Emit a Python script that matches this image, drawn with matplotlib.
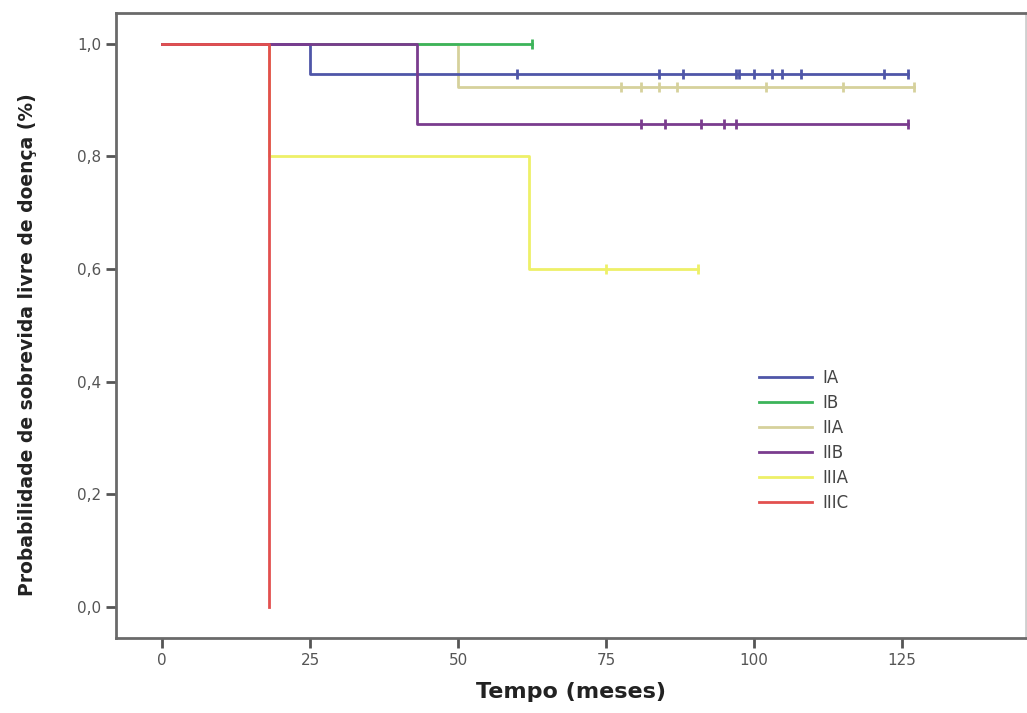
import matplotlib
matplotlib.use("Agg")
import matplotlib.pyplot as plt

# Kaplan-Meier steps per stage: (times, survival) with censor marks
groups = ["IA", "IB", "IIA", "IIB", "IIIA", "IIIC"]
colors = ["#4f56a8", "#3cb45a", "#d6d19c", "#7a3c8e", "#eef068", "#e2504f"]

step_times = {
    "IA": [0, 25, 126],
    "IB": [0, 62.5],
    "IIA": [0, 50, 127],
    "IIB": [0, 43, 126],
    "IIIA": [0, 18, 62, 90.5],
    "IIIC": [0, 18],
}
step_surv = {
    "IA": [1.0, 0.947, 0.947],
    "IB": [1.0, 1.0],
    "IIA": [1.0, 0.923, 0.923],
    "IIB": [1.0, 0.857, 0.857],
    "IIIA": [1.0, 0.8, 0.6, 0.6],
    "IIIC": [1.0, 0.0],
}
censor_times = {
    "IA": [60, 84, 88, 97, 97.5, 100, 103, 104.7, 108, 122, 126],
    "IB": [62.5],
    "IIA": [77.5, 81, 84, 87, 102, 115, 127],
    "IIB": [81, 85, 91, 95, 97, 126],
    "IIIA": [75, 90.5],
    "IIIC": [],
}
censor_surv = {"IA": 0.947, "IB": 1.0, "IIA": 0.923, "IIB": 0.857, "IIIA": 0.6, "IIIC": 0.0}

fig = plt.figure(figsize=(10.27, 7.13), dpi=100)
ax = fig.add_axes([0.113, 0.105, 0.886, 0.877])

# draw order so red/yellow sit like in the original
order = ["IIIA", "IIA", "IB", "IA", "IIB", "IIIC"]
handles = {}
for g in order:
    c = colors[groups.index(g)]
    ln, = ax.step(step_times[g], step_surv[g], where="post", color=c, lw=2.0)
    handles[g] = ln
    if censor_times[g]:
        ax.plot(censor_times[g], [censor_surv[g]] * len(censor_times[g]),
                ls="none", marker="|", ms=7, mew=2.0, color=c)

ax.set_xlim(-7.8, 146)
ax.set_ylim(-0.055, 1.055)
ax.set_xticks([0, 25, 50, 75, 100, 125])
ax.set_yticks([0, 0.2, 0.4, 0.6, 0.8, 1.0])
ax.set_yticklabels(["0,0", "0,2", "0,4", "0,6", "0,8", "1,0"])

for s in ax.spines.values():
    s.set_color("#6a6a6a")
    s.set_linewidth(2.0)
ax.spines["right"].set_color("#cfcfcf")
ax.tick_params(direction="out", length=7, width=2, color="#555555",
               labelsize=11, labelcolor="#555555")

ax.set_xlabel("Tempo (meses)", fontsize=16, fontweight="bold", color="#222222", labelpad=10)
ax.set_ylabel("Probabilidade de sobrevida livre de doença (%)", fontsize=13.5,
              fontweight="bold", color="#222222")
ax.yaxis.set_label_coords(-0.087, 0.47)

leg = ax.legend([handles[g] for g in groups], groups, loc="upper left",
                bbox_to_anchor=(0.69, 0.455), frameon=False, fontsize=12,
                handlelength=3.2, labelspacing=0.42, handletextpad=0.6)
for t in leg.get_texts():
    t.set_color("#444444")

fig.savefig("out.png", dpi=100)
